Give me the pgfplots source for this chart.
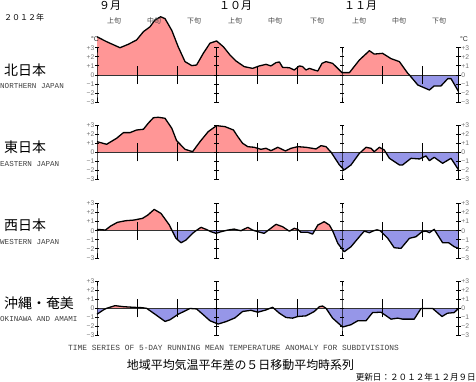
\documentclass[border=0pt]{standalone}
\usepackage{fontspec}
\setmainfont{Liberation Serif}
\newfontfamily\jp{Noto Sans CJK JP}
\newfontfamily\mono{Liberation Mono}
\newfontfamily\lsans{Liberation Sans}
\usepackage{pgfplots}
\usepackage{pgfplotstable}
\pgfplotsset{compat=1.18}
\definecolor{posc}{RGB}{255,150,150}
\definecolor{negc}{RGB}{150,150,232}
\definecolor{tickgray}{RGB}{115,115,115}

\pgfplotstableread{
d v
0 4.2
2.4 3.66
5.75 3.0
7.8 3.37
9.9 3.85
11.6 4.76
13.25 5.3
14.5 6.04
15.9 6.4
17 6.2
18.7 4.9
20.3 3.1
22 1.47
23.7 1.03
24.9 1.1
26.6 2.4
28.25 3.5
29.9 3.74
31.6 3.1
33.25 2.2
34.75 1.54
36.8 0.92
38.9 0.73
40.6 1.0
42.25 1.17
43.5 1.0
44.75 1.36
45.6 1.43
46.4 0.84
48.1 0.8
49.3 0.55
50.6 1.0
51.4 0.92
52.25 0.55
53.1 0.73
54.3 0.55
55.2 0.44
56.25 1.28
57.25 1.47
58.9 1.28
59.75 0.92
61.25 0.26
63.1 0.26
65.6 1.65
68.1 2.67
69.3 2.3
71.4 2.38
73.5 1.8
75.6 1.47
77.7 0.18
78.1 0
80.2 -1.1
83.1 -1.65
84.3 -1.2
86 -1.2
87.7 -0.4
88.5 -0.4
90.4 -1.83
}\dataNJ

\pgfplotstableread{
d v
0 1.17
2.4 0.88
4.9 1.54
6.6 2.16
8.25 2.16
9.9 2.45
11.6 2.53
12.8 3.19
14.1 3.8
15.3 3.85
17 3.74
18.7 2.64
19.9 1.28
22 0.33
23.9 0.07
25.75 1.17
27.8 2.27
29.9 2.93
32 2.82
34.1 2.45
35.2 1.72
36.4 0.99
37.7 0.62
39.3 0.55
41 0.33
42.25 0.44
43.5 0.18
45.2 0.55
47.1 0.15
48.5 0.44
50.2 0.62
52.25 0.55
54.75 0.37
56 0.73
57.25 0.62
58.53 0
60.6 -1.39
61.8 -1.94
63.5 -1.39
65.6 -0.11
65.9 0
67.25 0.55
68.5 0.44
69.3 0.07
70.6 0.55
71.8 0.26
72.17 0
73.1 -0.66
75.6 -1.39
76.4 -1.39
78.5 -0.66
80.6 -0.73
82.25 -0.4
83.1 -0.92
84.3 -0.55
86.4 -1.21
88.5 -0.66
90.4 -1.94
}\dataEJ

\pgfplotstableread{
d v
0 0.15
2.1 0.07
3.4 0.51
5.1 0.92
7.2 1.1
9.25 1.17
11.4 1.36
12.7 1.72
14.3 2.34
16 1.9
18.1 0.62
18.78 0
19.75 -0.84
21 -1.32
22.25 -1.03
23.9 -0.29
24.75 0
26 0.37
27.25 0.15
27.97 0
28.5 -0.11
29.75 -0.29
31 -0.11
32.04 0
32.7 0.07
34.3 0.18
35.2 0.07
36 0
37.7 0.37
38.9 0.07
39.4 0
40.2 -0.11
41.8 -0.29
42.66 0
43.1 0.15
44.75 0.7
46.4 0.44
47.9 0
48.1 -0.05
48.3 0
49.3 0.26
50.2 0.15
50.56 0
51 -0.18
52.7 -0.18
53.9 -0.37
54.39 0
55.2 0.62
56.8 0.99
58.1 0.62
58.9 0
60.2 -1.39
61.8 -2.31
63.5 -1.76
65.6 -0.66
66.8 -0.05
68.1 -0.22
69.2 0
70 0.1
70.8 0
72.7 -0.84
74.3 -1.87
76 -1.94
78.1 -0.84
79.75 -0.66
81.25 -0.11
82.25 -0.04
83.1 -0.22
83.8 0
84.3 0.15
84.5 0
86.4 -1.32
87.9 -1.32
89.3 -1.76
90.4 -1.94
}\dataWJ

\pgfplotstableread{
d v
0 -0.65
1.6 -0.18
2.4 0
4.5 0.29
6.6 0.18
9.1 0.11
11.2 0.07
12.4 0
14.5 -0.65
17 -1.44
18.25 -1.26
20.3 -0.65
22 -0.29
23.25 -0.02
24.9 -0.07
26.6 -0.72
28.25 -1.37
30.3 -1.73
32.4 -1.44
34.5 -1.05
36.4 -0.35
38.5 -0.22
40.2 -0.43
42.25 -0.18
43.27 0
43.9 0.11
44.19 0
45.6 -0.54
47.25 -1.01
48.9 -1.08
50.2 -0.9
52.25 -0.83
54.3 -0.36
55.17 0
55.6 0.18
56.4 0.25
57.25 0
58.9 -1.08
61.4 -2.06
63.5 -1.8
65.2 -1.37
67.25 -1.37
68.9 -0.47
71 -0.43
73.5 -1.19
75.2 -1.08
76.4 -1.19
79.3 -1.19
81 -0.02
83.9 -0.02
86.25 -0.9
87.6 -0.54
89.3 -0.47
90.4 0
}\dataOK

\pgfplotsset{panel/.style={anchor=origin, x=4bp, y=9.1bp, xmin=0, xmax=90.4, ymin=-3, ymax=3, hide axis, clip=false}}
\tikzset{
  labL/.style={anchor=east, inner sep=0pt, xshift=-2.5bp, text=tickgray, font=\lsans\fontsize{6.8}{6.8}\selectfont},
  labR/.style={anchor=west, inner sep=0pt, xshift=2.5bp, text=tickgray, font=\lsans\fontsize{6.8}{6.8}\selectfont}
}
\newcommand\ylab[2]{\node[labL] at (axis cs:0,#1) {#2};\node[labR] at (axis cs:90.4,#1) {#2};}
\newcommand\ibeam[1]{\addplot[black, line width=0.9bp, mark=-, mark size=2.2bp] coordinates {(#1,-3)(#1,-2)(#1,-1)(#1,0)(#1,1)(#1,2)(#1,3)};}
\newcommand\dek[1]{\addplot[black, line width=0.8bp] coordinates {(#1,-1)(#1,1)};}
\newcommand\panelbody[1]{%
 \addplot[fill=posc, draw=none] table[x=d, y expr={max(\thisrow{v},0)}] {#1} \closedcycle;
 \addplot[fill=negc, draw=none] table[x=d, y expr={min(\thisrow{v},0)}] {#1} \closedcycle;
 \addplot[draw=black!80, line width=0.8bp] coordinates {(0,0) (90.4,0)};
 \ibeam{0}\ibeam{29.9}\ibeam{61.25}\ibeam{90.4}
 \dek{10}\dek{20}\dek{40.2}\dek{50.2}\dek{71.25}\dek{81.25}
 \addplot[black, line width=1.3bp, line join=round] table[x=d,y=v] {#1};
 \ylab{3}{+3}\ylab{2}{+2}\ylab{1}{+1}\ylab{0}{0}\ylab{-1}{−1}\ylab{-2}{−2}\ylab{-3}{−3}
}

\begin{document}
\begin{tikzpicture}
\begin{axis}[panel, at={(97bp,-75bp)}]
\panelbody{\dataNJ}
\end{axis}
\begin{axis}[panel, at={(97bp,-152.3bp)}]
\panelbody{\dataEJ}
\end{axis}
\begin{axis}[panel, at={(97bp,-230.7bp)}]
\panelbody{\dataWJ}
\end{axis}
\begin{axis}[panel, at={(97bp,-308.3bp)}]
\panelbody{\dataOK}
\end{axis}

% header texts
\node[anchor=west, inner sep=0pt, font=\jp\fontsize{8}{8}\selectfont] at (4bp,-17bp) {２０１２年};
\node[anchor=west, inner sep=0pt, font=\jp\fontsize{11}{11}\selectfont] at (99bp,-5.5bp) {９月};
\node[anchor=west, inner sep=0pt, font=\jp\fontsize{11}{11}\selectfont] at (219bp,-5.5bp) {１０月};
\node[anchor=west, inner sep=0pt, font=\jp\fontsize{11}{11}\selectfont] at (344bp,-5.5bp) {１１月};
\foreach \xx/\tt in {114/上旬,154/中旬,194/下旬,235/上旬,275/中旬,317/下旬,359/上旬,399/中旬,439/下旬}{
  \node[inner sep=0pt, text=black!75, font=\jp\fontsize{7}{7}\selectfont] at (\xx bp,-20.7bp) {\tt};
}
\node[inner sep=0pt, text=black!80, font=\lsans\fontsize{7}{7}\selectfont] at (95bp,-39.5bp) {°C};
\node[inner sep=0pt, text=black!80, font=\lsans\fontsize{7}{7}\selectfont] at (464bp,-39.5bp) {°C};

% panel labels
\node[anchor=west, inner sep=0pt, font=\jp\fontsize{14}{14}\selectfont] at (4bp,-70bp) {北日本};
\node[anchor=west, inner sep=0pt, text=black!75, font=\mono\fontsize{7.6}{7.6}\selectfont] at (0bp,-86bp) {NORTHERN JAPAN};
\node[anchor=west, inner sep=0pt, font=\jp\fontsize{14}{14}\selectfont] at (4bp,-147.7bp) {東日本};
\node[anchor=west, inner sep=0pt, text=black!75, font=\mono\fontsize{7.6}{7.6}\selectfont] at (0bp,-164bp) {EASTERN JAPAN};
\node[anchor=west, inner sep=0pt, font=\jp\fontsize{14}{14}\selectfont] at (4bp,-225bp) {西日本};
\node[anchor=west, inner sep=0pt, text=black!75, font=\mono\fontsize{7.6}{7.6}\selectfont] at (0bp,-241.7bp) {WESTERN JAPAN};
\node[anchor=west, inner sep=0pt, font=\jp\fontsize{14}{14}\selectfont] at (4bp,-303bp) {沖縄・奄美};
\node[anchor=west, inner sep=0pt, text=black!75, font=\mono\fontsize{7.6}{7.6}\selectfont] at (0bp,-318.7bp) {OKINAWA AND AMAMI};

% footer
\node[anchor=west, inner sep=0pt, text=black!75, font=\mono\fontsize{7.9}{7.9}\selectfont] at (68bp,-347.7bp) {TIME SERIES OF 5-DAY RUNNING MEAN TEMPERATURE ANOMALY FOR SUBDIVISIONS};
\node[inner sep=0pt, font=\jp\fontsize{12}{12}\selectfont] at (240.5bp,-365bp) {地域平均気温平年差の５日移動平均時系列};
\node[anchor=east, inner sep=0pt, font=\jp\fontsize{8.6}{8.6}\selectfont] at (476bp,-377bp) {更新日：２０１２年１２月９日};

\pgfresetboundingbox
\useasboundingbox (0bp,0bp) rectangle (476bp,-382bp);
\end{tikzpicture}
\end{document}
